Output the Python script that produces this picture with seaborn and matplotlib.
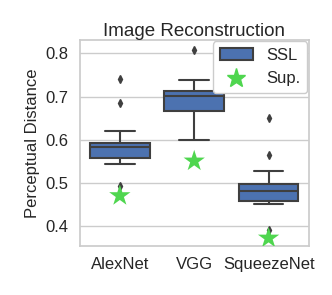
import pandas as pd
import seaborn as sns
import matplotlib.pyplot as plt
from matplotlib.lines import Line2D
from matplotlib.patches import Patch

models = ['AlexNet', 'VGG', 'SqueezeNet']

# self-supervised runs (per model)
ssl_alexnet = [0.493, 0.544, 0.552, 0.559, 0.568, 0.576, 0.583, 0.586, 0.590, 0.593, 0.620, 0.684, 0.741]
ssl_vgg = [0.600, 0.640, 0.660, 0.667, 0.680, 0.692, 0.701, 0.705, 0.710, 0.713, 0.725, 0.738, 0.808]
ssl_squeeze = [0.392, 0.451, 0.455, 0.458, 0.466, 0.474, 0.482, 0.488, 0.494, 0.498, 0.527, 0.566, 0.650]

# supervised baseline
sup_values = [0.471, 0.551, 0.373]

box_color = '#4c72b0'
star_color = '#4fd64f'
line_color = '#3f3f3f'

sns.set_theme(style='whitegrid')
plt.rcParams['font.family'] = ['Liberation Sans', 'DejaVu Sans']

rows = []
for m, vals in zip(models, [ssl_alexnet, ssl_vgg, ssl_squeeze]):
    rows += [(m, v) for v in vals]
df = pd.DataFrame(rows, columns=['model', 'dist'])
sup = pd.DataFrame({'model': models, 'dist': sup_values})

fig, ax = plt.subplots(figsize=(3.32, 2.95), dpi=100)
sns.boxplot(data=df, x='model', y='dist', order=models, color=box_color, saturation=1,
            width=0.8, linewidth=1.5, linecolor=line_color, fliersize=4,
            flierprops={'marker': 'd', 'markerfacecolor': line_color,
                        'markeredgecolor': line_color}, ax=ax)
sns.scatterplot(data=sup, x='model', y='dist', marker='*', s=260, color=star_color,
                edgecolor='none', zorder=5, ax=ax)

ax.set_ylim(0.354, 0.831)
ax.set_yticks([0.4, 0.5, 0.6, 0.7, 0.8])
ax.set_xlabel('')
ax.set_ylabel('Perceptual Distance', fontsize=12)
ax.set_title('Image Reconstruction', fontsize=13.5, pad=3)
ax.tick_params(labelsize=12, pad=2)
ax.xaxis.grid(False)

handles = [Patch(facecolor=box_color, edgecolor=line_color, linewidth=1.5),
           Line2D([], [], marker='*', linestyle='', color=star_color, markersize=14)]
ax.legend(handles, ['SSL', 'Sup.'], loc='upper right', fontsize=12,
          borderaxespad=0.1, handlelength=2.0, framealpha=1)

fig.subplots_adjust(left=0.24, right=0.93, top=0.865, bottom=0.165)
fig.savefig('out.png', dpi=100)
